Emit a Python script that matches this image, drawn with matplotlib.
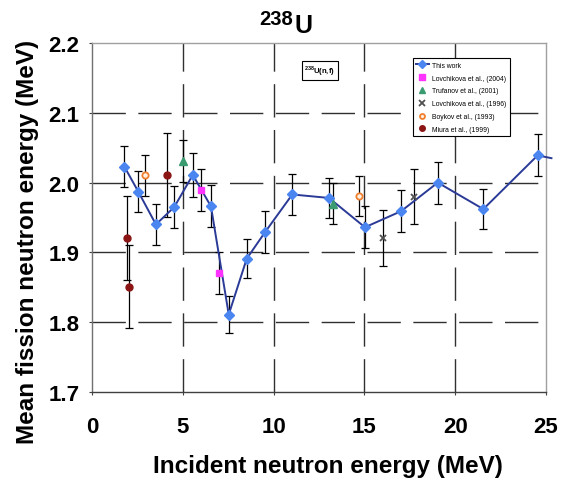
import matplotlib
matplotlib.use("Agg")
import matplotlib.pyplot as plt

plt.rcParams['font.family'] = ['Liberation Sans', 'DejaVu Sans']
plt.rcParams['mathtext.fontset'] = 'custom'
plt.rcParams['mathtext.rm'] = 'Liberation Sans'
plt.rcParams['mathtext.bf'] = 'Liberation Sans:bold'

# This work: incident energy (MeV), mean fission neutron energy (MeV), uncertainty
work_e = [1.78, 2.55, 3.52, 4.53, 5.55, 6.55, 7.53, 8.52, 9.53, 11.03, 13.05,
          15.03, 17.02, 19.04, 21.55, 24.54, 25.3]
work_y = [2.023, 1.987, 1.940, 1.965, 2.011, 1.966, 1.811, 1.891, 1.929, 1.983,
          1.978, 1.936, 1.959, 2.000, 1.962, 2.039, 2.035]
work_err = [0.030, 0.029, 0.029, 0.030, 0.031, 0.030, 0.027, 0.028, 0.030, 0.030,
            0.029, 0.030, 0.030, 0.030, 0.029, 0.030, 0.030]

# Literature values
lov04_e, lov04_y, lov04_err = [6.0, 7.01], [1.990, 1.870], [0.030, 0.030]
tru01_e, tru01_y, tru01_err = [5.03, 13.25], [2.031, 1.970], [0.030, 0.030]
lov96_e, lov96_y, lov96_err = [16.04, 17.73], [1.921, 1.980], [0.040, 0.040]
boy93_e, boy93_y, boy93_err = [2.92, 14.70], [2.0105, 1.981], [0.029, 0.029]
miu99_e, miu99_y, miu99_err = [4.11, 1.91, 2.04], [2.0105, 1.921, 1.851], [0.060, 0.060, 0.060]

labels = ["This work", "Lovchikova et al., (2004)", "Trufanov et al., (2001)",
          "Lovchikova et al., (1996)", "Boykov et al., (1993)", "Miura et al., (1999)"]

x_ticks = [0, 5, 10, 15, 20, 25]
y_ticks = [1.7, 1.8, 1.9, 2.0, 2.1, 2.2]

fig = plt.figure(figsize=(5.63, 4.81), dpi=100)
ax = fig.add_axes([0.1634, 0.183, 0.8064, 0.7255])
ax.set_xlim(0, 25)
ax.set_ylim(1.7, 2.2)

# dashed grid
grid_kw = dict(color='#303030', lw=1.0, dashes=(24, 9), zorder=1)
for xv in x_ticks[1:-1]:
    ax.axvline(xv, **grid_kw)
for yv in y_ticks[1:-1]:
    ax.axhline(yv, **grid_kw)

eb_kw = dict(fmt='none', ecolor='black', elinewidth=0.9, capsize=2.6, capthick=0.9, zorder=3)
ax.errorbar(work_e[:-1], work_y[:-1], yerr=work_err[:-1], **eb_kw)
ax.errorbar(lov04_e, lov04_y, yerr=lov04_err, **eb_kw)
ax.errorbar(tru01_e, tru01_y, yerr=tru01_err, **eb_kw)
ax.errorbar(lov96_e, lov96_y, yerr=lov96_err, **eb_kw)
ax.errorbar(boy93_e, boy93_y, yerr=boy93_err, **eb_kw)
ax.errorbar(miu99_e, miu99_y, yerr=miu99_err, **eb_kw)

h_work, = ax.plot(work_e, work_y, color='#2a3a96', lw=1.4, marker='D', ms=5.5,
                  mfc='#4a85f0', mec='#4a85f0', markevery=list(range(len(work_e) - 1)),
                  clip_on=False, zorder=4, label=labels[0])
h1, = ax.plot(lov04_e, lov04_y, ls='none', marker='s', ms=5, mfc='#ff33ff', mec='#ff33ff',
              zorder=5, label=labels[1])
h2, = ax.plot(tru01_e, tru01_y, ls='none', marker='^', ms=5.5, mfc='#3a9a70', mec='#3a9a70',
              zorder=5, label=labels[2])
h3, = ax.plot(lov96_e, lov96_y, ls='none', marker='x', ms=5, mew=1.3, color='#505050',
              zorder=5, label=labels[3])
h4, = ax.plot(boy93_e, boy93_y, ls='none', marker='o', ms=4.5, mfc='#fff0e0', mec='#f08030',
              mew=1.3, zorder=5, label=labels[4])
h5, = ax.plot(miu99_e, miu99_y, ls='none', marker='o', ms=5, mfc='#8b1515', mec='#8b1515',
              zorder=5, label=labels[5])

leg = ax.legend(handles=[h_work, h1, h2, h3, h4, h5], loc='upper left',
                bbox_to_anchor=(0.706, 0.957), borderaxespad=0, fancybox=False,
                framealpha=1, edgecolor='black', fontsize=4.9, handlelength=1.8,
                labelspacing=0.85, borderpad=0.55, handletextpad=0.5, markerscale=0.8)
leg.get_frame().set_linewidth(0.8)
leg.set_zorder(10)

ax.text(0.468, 0.922, r'$^{\mathbf{238}}$U(n,f)', transform=ax.transAxes, fontsize=5.5,
        fontweight='bold', ha='left', va='center', zorder=10,
        bbox=dict(boxstyle='square,pad=0.35', fc='white', ec='black', lw=0.8))

ax.set_xticks(x_ticks)
ax.set_yticks(y_ticks)
ax.set_yticklabels([f"{v:.1f}" for v in y_ticks])
ax.tick_params(axis='both', direction='out', length=2.5, width=0.8, labelsize=16, colors='#404040',
               labelcolor='black')
ax.tick_params(axis='x', pad=15)
ax.tick_params(axis='y', pad=6.5)
for lab in ax.get_xticklabels() + ax.get_yticklabels():
    lab.set_fontweight('bold')

ax.spines['left'].set_color('#707070')
ax.spines['bottom'].set_color('#404040')
ax.spines['top'].set_color('#a0a0a0')
ax.spines['right'].set_color('#a0a0a0')
for s in ax.spines.values():
    s.set_linewidth(1.0)

fig.text(28 / 563, 1 - 241.5 / 481, 'Mean fission neutron energy (MeV)', rotation=90,
         ha='center', va='center', fontsize=17.5, fontweight='bold')
fig.text(328 / 563, 1 - 467 / 481, 'Incident neutron energy (MeV)', ha='center', va='center',
         fontsize=17.5, fontweight='bold')

fig.text(293 / 563, 1 - 25 / 481, '238', ha='right', va='baseline', fontsize=14.5,
         fontweight='bold')
fig.text(294 / 563, 1 - 33 / 481, 'U', ha='left', va='baseline', fontsize=18,
         fontweight='bold')

fig.savefig('out.png', dpi=100)
